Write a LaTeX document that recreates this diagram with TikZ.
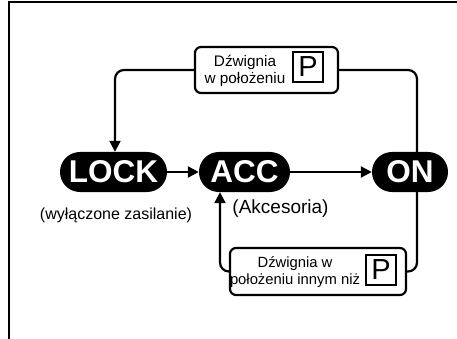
\documentclass[tikz,border=0pt]{standalone}
\usepackage{fontspec}
\setmainfont{Liberation Sans}
\usetikzlibrary{arrows.meta}
\begin{document}
\begin{tikzpicture}[x=1pt,y=-1pt,
  pill/.style={fill=black, rounded corners=19.9pt, minimum height=40pt, inner sep=0pt,
    text=white, font=\fontsize{31.5}{31.5}\selectfont\bfseries},
  lbox/.style={draw, line width=2.2pt, rounded corners=6pt, inner sep=0pt},
  ltext/.style={align=center, inner sep=0pt},
  pbox/.style={draw, line width=2.2pt, inner sep=0pt, minimum size=30pt, font=\fontsize{29}{29}\selectfont},
  conn/.style={line width=2.2pt, rounded corners=9pt},
  arr/.style={-{Triangle[length=11pt,width=11pt]}},
  captxt/.style={inner sep=0pt}]
\useasboundingbox (0,0) rectangle (457,339);
\draw[line width=2pt] (9,339) -- (9,2) -- (457,2);
% state pills
\node[pill, minimum width=107pt] (lock) at (113.5,172) {LOCK};
\node[pill, minimum width=91pt] (acc) at (244.5,172) {ACC};
\node[pill, minimum width=76pt] (on) at (410,172) {ON};
% labels
\node[captxt, font=\fontsize{16}{16}\selectfont] (lockl) at (116,215) {(wyłączone zasilanie)};
\node[captxt, font=\fontsize{19}{19}\selectfont] (accl) at (280.5,209) {(Akcesoria)};
% top box
\node[lbox, minimum width=143pt, minimum height=46pt] (topbox) at (266.5,70) {};
\node[ltext, font=\fontsize{15.3}{16.5}\selectfont] (toptext) at (245,71) {Dźwignia\\w położeniu};
\node[pbox] (topP) at (308,67) {P};
% bottom box
\node[lbox, minimum width=176pt, minimum height=47pt] (botbox) at (318,271.5) {};
\node[ltext, font=\fontsize{14.8}{16.5}\selectfont] (bottext) at (295,272) {Dźwignia w\\położeniu innym niż};
\node[pbox] (botP) at (381,270) {P};
% connectors
\draw[conn, arr] (lock.east) -- (acc.west);
\draw[conn, arr] (acc.east) -- (on.west);
\draw[conn] ([xshift=7pt]on.north) |- (topbox.east);
\draw[conn, arr] (topbox.west) -| ([xshift=1.5pt]lock.north);
\draw[conn] ([xshift=7pt]on.south) |- (botbox.east);
\draw[conn, arr] (botbox.west) -| ([xshift=-24.5pt]acc.south);
\end{tikzpicture}
\end{document}
